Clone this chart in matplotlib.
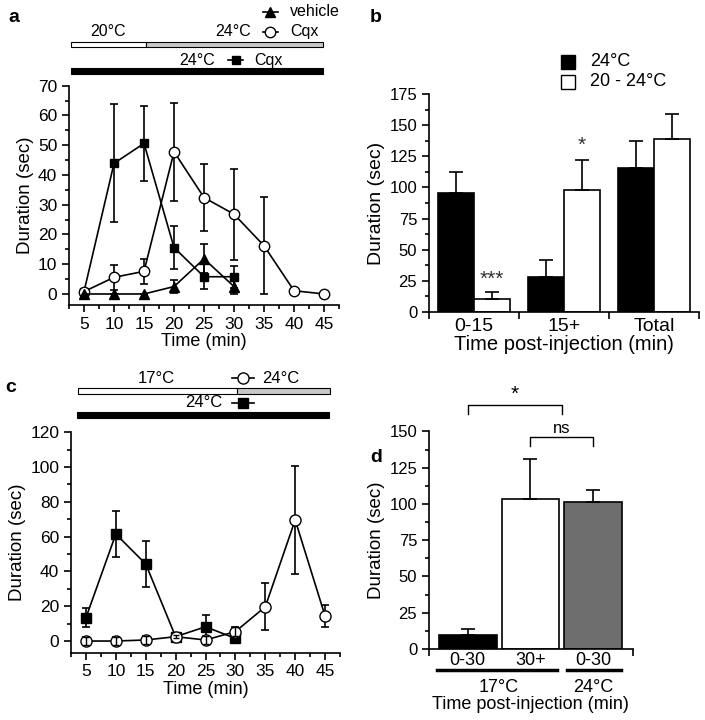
import numpy as np
import matplotlib
matplotlib.use('Agg')
import matplotlib.pyplot as plt
from matplotlib.patches import Rectangle

plt.rcParams['font.family'] = ['Liberation Sans', 'DejaVu Sans']
plt.rcParams['font.size'] = 11

# ---- panel a data ----
time_a = [5, 10, 15, 20, 25, 30, 35, 40, 45]
cqx24_a = [0.8, 43.9, 50.6, 15.6, 5.8, 5.8]
cqx24_a_err = [0.8, 19.8, 12.7, 7.3, 4.2, 3.7]
cqx2024_a = [0.8, 5.6, 7.6, 47.8, 32.4, 26.8, 16.2, 1.1, 0.0]
cqx2024_a_err = [0.5, 4.3, 4.3, 16.4, 11.4, 15.3, 16.3, 0.5, 0.0]
vehicle_a = [0.0, 0.0, 0.0, 2.5, 11.8, 2.5]
vehicle_a_err = [0.0, 0.0, 0.0, 2.2, 4.9, 2.5]

# ---- panel b data ----
groups_b = ['0-15', '15+', 'Total']
b_24 = [95.8, 27.7, 115.8]
b_24_err = [16.2, 14.0, 21.2]
b_2024 = [10.2, 97.7, 138.7]
b_2024_err = [5.7, 24.3, 20.3]

# ---- panel c data ----
time_c = [5, 10, 15, 20, 25, 30, 35, 40, 45]
sq24_c = [13.4, 61.5, 44.3, 2.5, 8.2, 1.5]
sq24_c_err = [5.3, 13.4, 13.4, 0.8, 6.8, 0.8]
circ_c = [0.0, 0.0, 0.6, 2.5, 0.6, 5.4, 19.7, 69.6, 14.4]
circ_c_err = [2.2, 2.2, 2.2, 1.0, 2.2, 2.5, 13.6, 30.9, 6.5]

# ---- panel d data ----
labels_d = ['0-30', '30+', '0-30']
vals_d = [9.6, 103.2, 101.6]
errs_d = [4.0, 27.8, 8.0]
colors_d = ['black', 'white', '#6e6e6e']

fig = plt.figure(figsize=(7.05, 7.2), dpi=100)


def style_axes(ax, labelsize=12):
    for s in ['top', 'right']:
        ax.spines[s].set_visible(False)
    for s in ['left', 'bottom']:
        ax.spines[s].set_linewidth(1.2)
    ax.tick_params(which='major', direction='out', length=5, width=1.2, labelsize=labelsize)
    ax.tick_params(which='minor', direction='out', length=3, width=1.2)


def time_axes(ax, ymax, ystep, ybottom):
    style_axes(ax, 12.5)
    ax.set_xlim(2.5, 47.5)
    ax.set_ylim(ybottom, ymax)
    ax.set_xticks(range(5, 50, 5))
    ax.set_xticks([2.5] + [x + 2.5 for x in range(5, 50, 5)], minor=True)
    ax.set_yticks(np.arange(0, ymax + 1, ystep))
    ax.set_yticks(np.arange(ystep / 2, ymax, ystep), minor=True)
    ax.set_xlabel('Time (min)', fontsize=13, labelpad=1)
    ax.set_ylabel('Duration (sec)', fontsize=13.5, labelpad=3)


def header_line(ax, x0, x1, y, marker, mfc, ms):
    tr = ax.get_xaxis_transform()
    ax.plot([x0, x1], [y, y], color='black', lw=1.2, transform=tr, clip_on=False)
    ax.plot([(x0 + x1) / 2], [y], marker=marker, mfc=mfc, mec='black', ms=ms,
            transform=tr, clip_on=False)


# ================= panel a =================
ax = fig.add_axes([0.0979, 0.5764, 0.383, 0.3046])
time_axes(ax, 70, 10, -3.7)
ekw = dict(color='black', lw=1.2, capsize=3, capthick=1.2)
ax.errorbar(time_a[:6], cqx24_a, yerr=cqx24_a_err, marker='s', ms=6,
            mfc='black', mec='black', **ekw)
ax.errorbar(time_a, cqx2024_a, yerr=cqx2024_a_err, marker='o', ms=7.5,
            mfc='white', mec='black', **ekw)
ax.errorbar(time_a[:6], vehicle_a, yerr=vehicle_a_err, marker='^', ms=7,
            mfc='black', mec='black', **ekw)

tr = ax.get_xaxis_transform()
ax.add_patch(Rectangle((2.8, 1.176), 12.5, 0.023, transform=tr, clip_on=False,
                       facecolor='white', edgecolor='black', lw=0.8))
ax.add_patch(Rectangle((15.3, 1.176), 29.6, 0.023, transform=tr, clip_on=False,
                       facecolor='#c8c8c8', edgecolor='black', lw=0.8))
ax.add_patch(Rectangle((2.8, 1.053), 42.1, 0.026, transform=tr, clip_on=False,
                       facecolor='black', edgecolor='black', lw=0.8))
ax.text(9.0, 1.245, '20°C', transform=tr, ha='center', va='center', fontsize=11.5)
ax.text(29.9, 1.245, '24°C', transform=tr, ha='center', va='center', fontsize=11.5)
header_line(ax, 34.8, 37.3, 1.245, 'o', 'white', 7.5)
ax.text(39.3, 1.245, 'Cqx', transform=tr, ha='left', va='center', fontsize=11.5)
header_line(ax, 34.8, 37.3, 1.336, '^', 'black', 7)
ax.text(39.3, 1.336, 'vehicle', transform=tr, ha='left', va='center', fontsize=11.5)
ax.text(23.9, 1.117, '24°C', transform=tr, ha='center', va='center', fontsize=11.5)
header_line(ax, 29.0, 31.5, 1.117, 's', 'black', 6)
ax.text(33.4, 1.117, 'Cqx', transform=tr, ha='left', va='center', fontsize=11.5)

# ================= panel b =================
ax = fig.add_axes([0.6085, 0.5667, 0.383, 0.3028])
style_axes(ax, 12)
xb = np.arange(len(groups_b))
w = 0.4
ax.bar(xb - w / 2, b_24, w, color='black', edgecolor='black', lw=1.2)
ax.bar(xb + w / 2, b_2024, w, color='white', edgecolor='black', lw=1.2)
ekw_b = dict(fmt='none', ecolor='black', elinewidth=1.2, capsize=5, capthick=1.2)
ax.errorbar(xb - w / 2, b_24, yerr=[np.zeros(3), b_24_err], **ekw_b)
ax.errorbar(xb + w / 2, b_2024, yerr=[np.zeros(3), b_2024_err], **ekw_b)
ax.set_xlim(-0.5, 2.5)
ax.set_ylim(0, 175)
ax.set_xticks([-0.5, 0.5, 1.5, 2.5])
ax.set_xticklabels([])
ax.set_xticks(xb, minor=True)
ax.set_xticklabels(groups_b, minor=True, fontsize=14)
ax.tick_params(axis='x', which='minor', length=0, pad=4)
ax.set_yticks(np.arange(0, 176, 25))
ax.set_yticks(np.arange(12.5, 175, 25), minor=True)
ax.set_xlabel('Time post-injection (min)', fontsize=14.5, labelpad=0)
ax.set_ylabel('Duration (sec)', fontsize=14, labelpad=3)
ax.text(0.2, 26, '***', ha='center', va='center', fontsize=15, color='#333333')
ax.text(1.2, 134, '*', ha='center', va='center', fontsize=15, color='#333333')
at = ax.transAxes
ax.add_patch(Rectangle((0.489, 1.115), 0.052, 0.064, transform=at, clip_on=False,
                       facecolor='black', edgecolor='black', lw=1))
ax.add_patch(Rectangle((0.489, 1.023), 0.052, 0.064, transform=at, clip_on=False,
                       facecolor='white', edgecolor='black', lw=1))
ax.text(0.596, 1.147, '24°C', transform=at, ha='left', va='center', fontsize=13)
ax.text(0.596, 1.055, '20 - 24°C', transform=at, ha='left', va='center', fontsize=13)

# ================= panel c =================
ax = fig.add_axes([0.1007, 0.0935, 0.3816, 0.3061])
time_axes(ax, 120, 20, -6.7)
ax.errorbar(time_c[:6], sq24_c, yerr=sq24_c_err, marker='s', ms=7,
            mfc='black', mec='black', **ekw)
ax.errorbar(time_c, circ_c, yerr=circ_c_err, marker='o', ms=8,
            mfc='white', mec='black', **ekw)
# small error bars that sit inside the open circles stay visible on top
small = [i for i, e in enumerate(circ_c_err) if e < 3]
ax.errorbar([time_c[i] for i in small], [circ_c[i] for i in small],
            yerr=[circ_c_err[i] for i in small], fmt='none', ecolor='black',
            elinewidth=1, capsize=2.5, capthick=1, zorder=4)
tr = ax.get_xaxis_transform()
ax.add_patch(Rectangle((3.7, 1.174), 26.6, 0.027, transform=tr, clip_on=False,
                       facecolor='white', edgecolor='black', lw=0.8))
ax.add_patch(Rectangle((30.3, 1.174), 15.5, 0.027, transform=tr, clip_on=False,
                       facecolor='#c8c8c8', edgecolor='black', lw=0.8))
ax.add_patch(Rectangle((3.5, 1.065), 42.2, 0.029, transform=tr, clip_on=False,
                       facecolor='black', edgecolor='black', lw=0.8))
ax.text(16.7, 1.246, '17°C', transform=tr, ha='center', va='center', fontsize=12)
header_line(ax, 29.5, 33.1, 1.246, 'o', 'white', 8)
ax.text(37.6, 1.246, '24°C', transform=tr, ha='center', va='center', fontsize=12)
ax.text(24.7, 1.133, '24°C', transform=tr, ha='center', va='center', fontsize=12)
header_line(ax, 29.5, 33.1, 1.133, 's', 'black', 7)

# ================= panel d =================
ax = fig.add_axes([0.6085, 0.0986, 0.2894, 0.3022])
style_axes(ax, 12)
xd = np.arange(len(vals_d))
ax.bar(xd, vals_d, 0.92, color=colors_d, edgecolor='black', lw=1.2)
ax.errorbar(xd, vals_d, yerr=[np.zeros(3), errs_d], **ekw_b)
ax.set_xlim(-0.62, 2.64)
ax.set_ylim(0, 150)
ax.set_xticks([-0.62, 2.64])
ax.set_xticklabels([])
ax.set_xticks(xd, minor=True)
ax.set_xticklabels(labels_d, minor=True, fontsize=13)
ax.tick_params(axis='x', which='minor', length=0, pad=2)
ax.set_yticks(np.arange(0, 151, 25))
ax.set_yticks(np.arange(12.5, 150, 25), minor=True)
ax.set_ylabel('Duration (sec)', fontsize=13.5, labelpad=3)

# group underlines and labels below the axis
bt = ax.get_xaxis_transform()
ax.plot([-0.5, 1.42], [-0.097, -0.097], color='black', lw=2.5, transform=bt, clip_on=False)
ax.plot([1.58, 2.44], [-0.097, -0.097], color='black', lw=2.5, transform=bt, clip_on=False)
ax.text(0.5, -0.175, '17°C', transform=bt, ha='center', va='center', fontsize=13)
ax.text(2.0, -0.175, '24°C', transform=bt, ha='center', va='center', fontsize=13)
ax.text(1.0, -0.255, 'Time post-injection (min)', transform=bt, ha='center',
        va='center', fontsize=13)

# significance brackets (above the plotting area)
ax.plot([0, 0, 1.5, 1.5], [162, 168, 168, 162], color='black', lw=1, clip_on=False)
ax.text(0.75, 169, '*', ha='center', va='bottom', fontsize=15)
ax.plot([1.0, 1.0, 2.0, 2.0], [140, 146, 146, 140], color='black', lw=1, clip_on=False)
ax.text(1.5, 147, 'ns', ha='center', va='bottom', fontsize=12)

# panel labels
for lab, x, y in [('a', 0.012, 0.976), ('b', 0.525, 0.976),
                  ('c', 0.008, 0.462), ('d', 0.525, 0.365)]:
    fig.text(x, y, lab, fontsize=14, fontweight='bold', ha='left', va='center')

fig.savefig('out.png', dpi=100)
